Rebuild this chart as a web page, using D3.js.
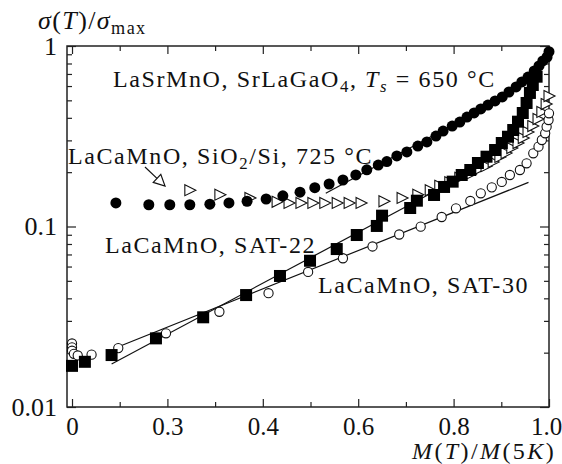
<!DOCTYPE html>
<html>
<head>
<meta charset="utf-8">
<script src="https://cdn.jsdelivr.net/npm/d3@7"></script>
<style>
  body { margin: 0; background: #fff; }
  svg { display: block; }
  text { font-family: "Liberation Serif", "Times New Roman", serif; fill: #111; }
</style>
</head>
<body>
<div id="chart"></div>
<script>
// x ticks (labels as printed in the figure)
const xTickVals = [0, 0.2, 0.4, 0.6, 0.8, 1.0];
const xTickLabels = ["0", "0.3", "0.4", "0.6", "0.8", "1.0"];
const yTickVals = [0.01, 0.1, 1];
const yTickLabels = ["0.01", "0.1", "1"];

// LaSrMnO on SrLaGaO4 (filled circles)
const lsmoX = [0.092, 0.161, 0.205, 0.247, 0.289, 0.329, 0.367, 0.407, 0.442, 0.478, 0.509, 0.539, 0.568, 0.595, 0.618, 0.642, 0.660, 0.681, 0.702, 0.725, 0.744, 0.763, 0.778, 0.797, 0.813, 0.828, 0.843, 0.857, 0.872, 0.887, 0.902, 0.916, 0.931, 0.943, 0.956, 0.969, 0.979, 0.987, 0.996, 1.0];
const lsmoY = [0.135, 0.132, 0.132, 0.132, 0.133, 0.135, 0.138, 0.142, 0.148, 0.155, 0.164, 0.172, 0.181, 0.193, 0.206, 0.219, 0.229, 0.246, 0.259, 0.279, 0.294, 0.317, 0.338, 0.360, 0.379, 0.404, 0.426, 0.448, 0.471, 0.496, 0.522, 0.556, 0.593, 0.632, 0.673, 0.727, 0.775, 0.826, 0.869, 0.93];

// LaCaMnO on SiO2/Si (open triangles)
const sioX = [0.247, 0.310, 0.373, 0.430, 0.455, 0.480, 0.505, 0.530, 0.556, 0.581, 0.606, 0.654, 0.692, 0.725, 0.751, 0.771, 0.792, 0.813, 0.835, 0.851, 0.868, 0.883, 0.897, 0.910, 0.922, 0.935, 0.946, 0.956, 0.966, 0.977, 0.985, 0.994, 1.0];
const sioY = [0.159, 0.150, 0.144, 0.137, 0.135, 0.135, 0.135, 0.135, 0.135, 0.135, 0.135, 0.138, 0.144, 0.150, 0.159, 0.168, 0.176, 0.186, 0.195, 0.206, 0.216, 0.228, 0.243, 0.255, 0.272, 0.290, 0.309, 0.334, 0.360, 0.394, 0.431, 0.477, 0.528];

// LaCaMnO SAT-22 (filled squares)
const sat22X = [0.0, 0.027, 0.083, 0.176, 0.275, 0.365, 0.436, 0.499, 0.555, 0.597, 0.639, 0.650, 0.709, 0.723, 0.759, 0.780, 0.798, 0.817, 0.835, 0.851, 0.869, 0.887, 0.901, 0.914, 0.925, 0.935, 0.945, 0.953, 0.960, 0.966, 0.974];
const sat22Y = [0.0169, 0.0178, 0.0194, 0.0240, 0.0314, 0.0417, 0.0532, 0.0646, 0.0750, 0.0897, 0.1007, 0.1148, 0.1266, 0.1390, 0.1495, 0.1656, 0.1772, 0.1929, 0.2056, 0.2248, 0.2436, 0.2653, 0.2901, 0.3143, 0.3424, 0.3808, 0.4254, 0.4834, 0.5495, 0.6081, 0.6761];

// LaCaMnO SAT-30 (open circles)
const sat30X = [0.0, 0.0, 0.0, 0.004, 0.012, 0.041, 0.097, 0.197, 0.309, 0.412, 0.495, 0.568, 0.630, 0.686, 0.731, 0.775, 0.805, 0.835, 0.857, 0.880, 0.901, 0.918, 0.939, 0.953, 0.967, 0.978, 0.985, 0.992, 0.995, 0.999, 1.0];
const sat30Y = [0.0225, 0.0214, 0.0205, 0.0197, 0.0193, 0.0195, 0.0212, 0.0256, 0.0337, 0.0427, 0.0560, 0.0667, 0.0775, 0.0903, 0.0998, 0.1129, 0.1261, 0.1385, 0.1527, 0.1648, 0.1765, 0.1929, 0.2056, 0.2240, 0.2544, 0.2770, 0.3015, 0.3283, 0.3573, 0.3891, 0.4238];

// straight-line fits
const fitLsmoX = [0.532, 0.80];
const fitLsmoY = [0.153, 0.367];
const fit22X = [0.083, 0.797];
const fit22Y = [0.0173, 0.1764];
const fit30X = [0.096, 0.957];
const fit30Y = [0.0215, 0.1757];

const width = 562, height = 464;
const margin = { top: 46, right: 13, bottom: 57, left: 67 };
const serif = "'Liberation Serif', 'Times New Roman', serif";

const svg = d3.select("#chart").append("svg")
  .attr("width", width)
  .attr("height", height);

svg.append("rect").attr("width", width).attr("height", height).attr("fill", "#fff");

const x = d3.scaleLinear().domain([-0.0105, 1.0]).range([margin.left, width - margin.right]);
const y = d3.scaleLog().domain([0.01, 1]).range([height - margin.bottom, margin.top]);

const x0 = margin.left, x1 = width - margin.right;
const y0 = height - margin.bottom, y1 = margin.top;

// minor tick values
const xMinor = d3.range(0, 11).map(i => i / 10).filter(v => !xTickVals.some(t => Math.abs(t - v) < 1e-6));
const yMinor = [];
[0.01, 0.1].forEach(d => { for (let k = 2; k <= 9; k++) yMinor.push(d * k); });

function styleAxis(g, fs) {
  g.select(".domain").remove();
  g.selectAll("line").attr("stroke", "#222").attr("stroke-width", 1.2);
  g.selectAll("text").attr("font-size", fs || 26).attr("fill", "#111")
    .attr("font-family", serif);
}

// bottom
const xAxisG = svg.append("g").attr("transform", `translate(0,${y0})`)
  .call(d3.axisBottom(x).tickValues(xTickVals).tickFormat((d, i) => xTickLabels[i])
    .tickSizeInner(-8).tickSizeOuter(0).tickPadding(10))
  .call(styleAxis, 25);
xAxisG.selectAll("text").filter(d => d === 1.0).attr("dx", -3);
svg.append("g").attr("transform", `translate(0,${y0})`)
  .call(d3.axisBottom(x).tickValues(xMinor).tickFormat("").tickSizeInner(-5).tickSizeOuter(0))
  .call(styleAxis);
// top
svg.append("g").attr("transform", `translate(0,${y1})`)
  .call(d3.axisTop(x).tickValues(xTickVals).tickFormat("").tickSizeInner(-8).tickSizeOuter(0))
  .call(styleAxis);
svg.append("g").attr("transform", `translate(0,${y1})`)
  .call(d3.axisTop(x).tickValues(xMinor).tickFormat("").tickSizeInner(-5).tickSizeOuter(0))
  .call(styleAxis);
// left
svg.append("g").attr("transform", `translate(${x0},0)`)
  .call(d3.axisLeft(y).tickValues(yTickVals).tickFormat((d, i) => yTickLabels[i])
    .tickSizeInner(-9).tickSizeOuter(0).tickPadding(10))
  .call(styleAxis);
svg.append("g").attr("transform", `translate(${x0},0)`)
  .call(d3.axisLeft(y).tickValues(yMinor).tickFormat("").tickSizeInner(-5).tickSizeOuter(0))
  .call(styleAxis);
// right
svg.append("g").attr("transform", `translate(${x1},0)`)
  .call(d3.axisRight(y).tickValues(yTickVals).tickFormat("").tickSizeInner(-9).tickSizeOuter(0))
  .call(styleAxis);
svg.append("g").attr("transform", `translate(${x1},0)`)
  .call(d3.axisRight(y).tickValues(yMinor).tickFormat("").tickSizeInner(-5).tickSizeOuter(0))
  .call(styleAxis);

// frame
svg.append("rect")
  .attr("x", x0).attr("y", y1)
  .attr("width", x1 - x0).attr("height", y0 - y1)
  .attr("fill", "none").attr("stroke", "#222").attr("stroke-width", 1.5);

// fit lines
const line = d3.line().x(d => x(d[0])).y(d => y(d[1]));
[[fitLsmoX, fitLsmoY], [fit22X, fit22Y], [fit30X, fit30Y]].forEach(([xs, ys]) => {
  svg.append("path")
    .attr("d", line(d3.zip(xs, ys)))
    .attr("fill", "none").attr("stroke", "#111").attr("stroke-width", 1.2);
});

// open triangles
const tri = "M-5,-5.5 L6,0 L-5,5.5 Z";
svg.append("g").selectAll("path")
  .data(d3.zip(sioX, sioY))
  .join("path")
  .attr("transform", d => `translate(${x(d[0])},${y(d[1])})`)
  .attr("d", tri)
  .attr("fill", "#fff").attr("stroke", "#111").attr("stroke-width", 1.1);

// open circles
svg.append("g").selectAll("circle")
  .data(d3.zip(sat30X, sat30Y))
  .join("circle")
  .attr("cx", d => x(d[0])).attr("cy", d => y(d[1]))
  .attr("r", 4.6)
  .attr("fill", "#fff").attr("stroke", "#111").attr("stroke-width", 1.1);

// filled squares
svg.append("g").selectAll("rect")
  .data(d3.zip(sat22X, sat22Y))
  .join("rect")
  .attr("x", d => x(d[0]) - 6).attr("y", d => y(d[1]) - 6)
  .attr("width", 12).attr("height", 12)
  .attr("fill", "#000");

// filled circles
svg.append("g").selectAll("circle")
  .data(d3.zip(lsmoX, lsmoY))
  .join("circle")
  .attr("cx", d => x(d[0])).attr("cy", d => y(d[1]))
  .attr("r", 5.5)
  .attr("fill", "#000");

// arrow to the SiO2/Si series
const arrFrom = [0.153, 0.2136], arrTo = [0.195, 0.1677];
const ax0 = x(arrFrom[0]), ay0 = y(arrFrom[1]), ax1 = x(arrTo[0]), ay1 = y(arrTo[1]);
const ang = Math.atan2(ay1 - ay0, ax1 - ax0);
svg.append("line")
  .attr("x1", ax0).attr("y1", ay0)
  .attr("x2", ax1 - 10 * Math.cos(ang)).attr("y2", ay1 - 10 * Math.sin(ang))
  .attr("stroke", "#111").attr("stroke-width", 1.2);
svg.append("path")
  .attr("transform", `translate(${ax1},${ay1}) rotate(${ang * 180 / Math.PI})`)
  .attr("d", "M-11,-5.5 L0,0 L-11,5.5 Z")
  .attr("fill", "#fff").attr("stroke", "#111").attr("stroke-width", 1.2);

// labels
function label(xp, yp, parts, size, ls) {
  const fs = size || 24;
  const t = svg.append("text").attr("x", xp).attr("y", yp)
    .attr("font-family", serif)
    .attr("font-size", fs).attr("letter-spacing", ls === undefined ? 1.6 : ls);
  parts.forEach(p => {
    const s = t.append("tspan").text(p.t);
    if (p.i) s.attr("font-style", "italic");
    if (p.sub) s.attr("font-size", fs * 0.7).attr("dy", 5);
    if (p.back) s.attr("dy", -5);
  });
  return t;
}

label(113, 87, [
  { t: "LaSrMnO,  SrLaGaO" }, { t: "4", sub: true }, { t: ", ", back: true },
  { t: "T", i: true }, { t: "s", sub: true, i: true }, { t: " = 650 °C", back: true }
]);
label(68, 164, [
  { t: "LaCaMnO,  SiO" }, { t: "2", sub: true }, { t: "/Si, 725 °C", back: true }
]);
label(105, 253, [{ t: "LaCaMnO, SAT-22" }]);
label(318, 293, [{ t: "LaCaMnO, SAT-30" }]);

// axis titles
label(38, 29, [
  { t: "σ", i: true }, { t: "(" }, { t: "T", i: true }, { t: ")/" }, { t: "σ", i: true },
  { t: "max", sub: true }
], 26, 1.4);
label(412, 459, [
  { t: "M", i: true }, { t: "(" }, { t: "T", i: true }, { t: ")/" }, { t: "M", i: true },
  { t: "(5" }, { t: "K", i: true }, { t: ")" }
], 24, 2.4);
</script>
</body>
</html>
